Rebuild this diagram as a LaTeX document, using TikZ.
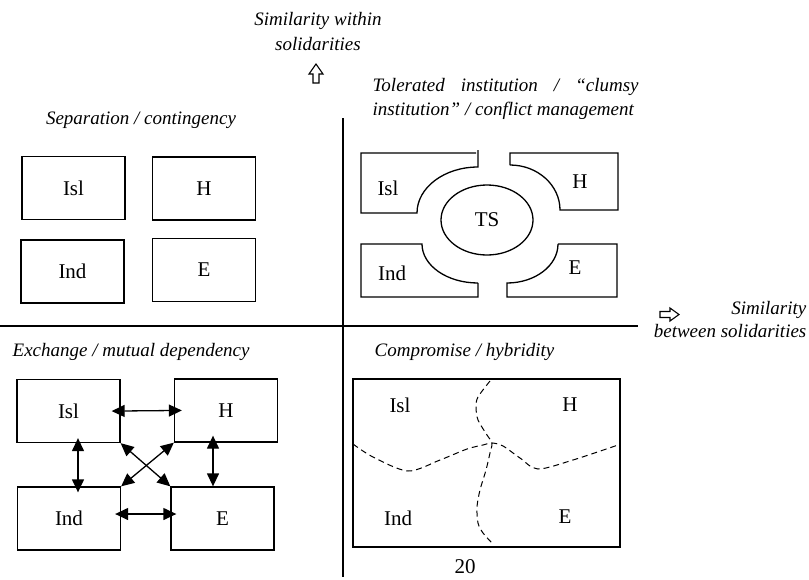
\documentclass[tikz,border=0pt]{standalone}
\usepackage{fontspec}
\setmainfont{Liberation Serif}
\usetikzlibrary{arrows.meta,shapes.geometric}

\begin{document}
\begin{tikzpicture}[x=1pt,y=-1pt,line width=1.3pt,font=\fontsize{21}{24}\selectfont]
    \tikzstyle{box}=[draw,rectangle,minimum width=103pt,minimum height=63pt,inner sep=0pt]
    \tikzstyle{caption}=[font=\fontsize{19}{25}\selectfont\itshape,inner sep=0pt]
    \tikzstyle{link}=[{Triangle[length=13pt,width=12pt]}-{Triangle[length=13pt,width=12pt]}]
    \tikzstyle{border}=[dash pattern=on 6pt off 4pt,line width=1pt]
    \tikzstyle{hollow}=[draw,line width=1.1pt,fill=white]
    \useasboundingbox (0,0) rectangle (809,579);

    % Axes
    \coordinate (ytop) at (343,118);
    \coordinate (ybot) at (343,577);
    \coordinate (xleft) at (0,326);
    \coordinate (xright) at (638,326);
    \draw[line width=1.5pt] (ytop) -- (ybot);
    \draw[line width=1.5pt] (xleft) -- (xright);
    \draw[hollow] (316,64) -- (323,74) -- (319,74) -- (319,83) -- (313,83) -- (313,74) -- (309,74) -- cycle;
    \draw[hollow] (679,314.5) -- (670,308) -- (670,311.5) -- (660,311.5) -- (660,317.5) -- (670,317.5) -- (670,321) -- cycle;
    \node[caption,align=center] (simy) at (318,32) {Similarity within\\solidarities};
    \node[caption,anchor=east] (simx1) at (807,310) {Similarity};
    \node[caption,anchor=east] (simx2) at (807,331) {between solidarities};

    % Separation / contingency
    \node[caption] (sep) at (141,120) {Separation / contingency};
    \node[box] (isl1) at (73.5,188) {Isl};
    \node[box] (h1) at (204,188.5) {H};
    \node[box] (ind1) at (72.5,271.5) {Ind};
    \node[box] (e1) at (204,270) {E};

    % Tolerated institution
    \node[caption,anchor=west] (tol1) at (372,87) {\makebox[266pt][s]{Tolerated institution / “clumsy}};
    \node[caption,anchor=west] (tol2) at (372,111) {institution” / conflict management};
    \draw (476,153) -- (361,153) -- (361,213) -- (417,213) arc[start angle=180,end angle=270,x radius=61,y radius=46] -- (478,150);
    \draw (510,165) -- (510,153) -- (618,153) -- (618,210) -- (560,210) arc[start angle=0,end angle=-90,x radius=50,y radius=45];
    \draw (478,283) -- (478,297) -- (361,297) -- (361,244) -- (422,244) arc[start angle=180,end angle=90,x radius=56,y radius=39];
    \draw (558,244) -- (617,244) -- (617,297) -- (507,297) -- (507,283) arc[start angle=90,end angle=0,x radius=51,y radius=39];
    \node[draw,ellipse,minimum width=92pt,minimum height=70pt,inner sep=0pt] (ts) at (487,220) {TS};
    \node (isl2) at (388,188) {Isl};
    \node (h2) at (580,182) {H};
    \node (ind2) at (392,273) {Ind};
    \node (e2) at (575,268) {E};

    % Exchange / mutual dependency
    \node[caption,anchor=west] (exch) at (12,352) {Exchange / mutual dependency};
    \node[box] (isl3) at (68.5,411) {Isl};
    \node[box] (h3) at (226,410.5) {H};
    \node[box] (ind3) at (69,518.5) {Ind};
    \node[box] (e3) at (222.5,518.5) {E};
    \draw[link,shorten <=-9pt,shorten >=-8pt] (isl3.east) -- (h3.west);
    \draw[link,shorten <=-6pt,shorten >=-6pt] ([yshift=4.5pt]ind3.east) -- ([yshift=4.5pt]e3.west);
    \draw[link,shorten <=-5pt,shorten >=-6pt] ([xshift=9.5pt]isl3.south) -- ([xshift=9pt]ind3.north);
    \draw[link,shorten <=-7pt] ([xshift=-13pt]h3.south) -- ([xshift=-9.5pt]e3.north);
    \draw[link] (isl3.south east) -- (e3.north west);
    \draw[link] (h3.south west) -- (ind3.north east);

    % Compromise / hybridity
    \node[caption,anchor=west] (comp) at (374,352) {Compromise / hybridity};
    \node[box,minimum width=267pt,minimum height=168pt,line width=1.6pt] (hyb) at (486.5,463) {};
    \node (isl4) at (400,405) {Isl};
    \node (h4) at (570,405) {H};
    \node (ind4) at (398,518) {Ind};
    \node (e4) at (565,517) {E};
    \draw[border] plot[smooth] coordinates {(490,381) (478,397) (476,407) (478,420) (487,435) (492,443) (490,453) (486,470) (480,490) (477,507) (478,523) (483,533) (492,543)};
    \draw[border] plot[smooth] coordinates {(353,444) (373,457) (408,471) (440,460) (467,449) (483,445) (492,443) (503,446) (520,458) (538,469) (573,460) (618,445)};

    \node (page) at (465,567) {20};
\end{tikzpicture}
\end{document}
